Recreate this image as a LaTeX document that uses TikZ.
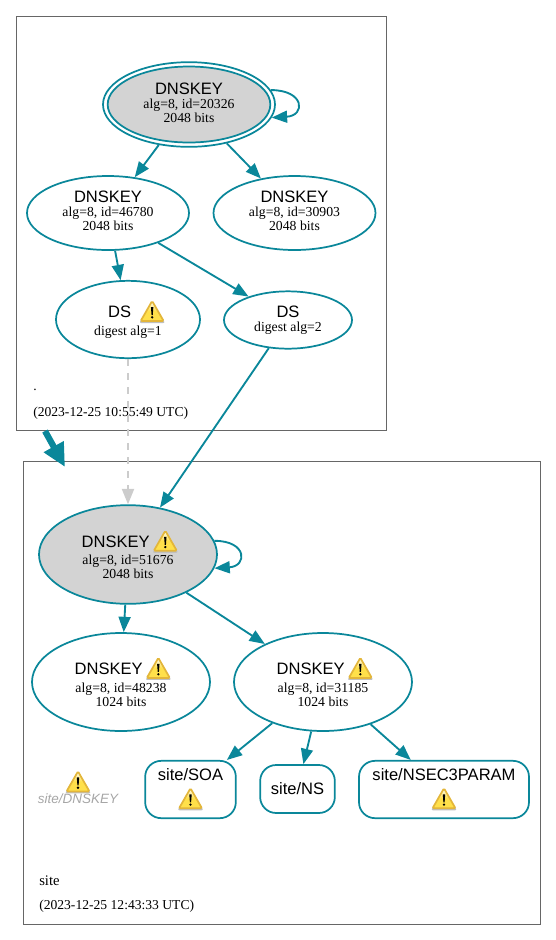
\documentclass[tikz,border=0pt]{standalone}
\usepackage{fontspec}
\setmainfont{Liberation Serif}
\setsansfont{Liberation Sans}
\usetikzlibrary{arrows.meta, shapes, shapes.geometric, calc}
\definecolor{teal}{HTML}{0A879A}
\definecolor{zonegray}{HTML}{666666}
\definecolor{keygray}{HTML}{D3D3D3}
\definecolor{warnyellow}{HTML}{FFE04A}
\definecolor{warnedge}{HTML}{E3B63A}
\newcommand{\warnicon}{\tikz[x=0.75pt,y=-0.75pt,baseline={(0,17.5)},sharp corners]{%
    \fill[black!25,rounded corners=1.5pt] (12,1) -- (25,23) -- (-1,23) -- cycle;
    \draw[warnedge,line width=1.3pt,rounded corners=1pt,top color=white,bottom color=warnyellow,middle color=warnyellow] (12,1) -- (23.5,21) -- (0.5,21) -- cycle;
    \fill[black] (10.8,7) -- (13.2,7) -- (12.6,15) -- (11.4,15) -- cycle;
    \fill[black] (12,17.3) circle (1.3);
}}
\newcommand{\keyname}[1]{{\sffamily\fontsize{12.4}{10.5}\selectfont #1}}
\newcommand{\lift}{\\[-7.5pt]\mbox{}}
\tikzset{
    zone/.style={draw=zonegray, line width=0.7pt},
    rrset/.style={draw=teal, line width=1.3pt, fill=white, ellipse, inner sep=0pt, align=center, font=\fontsize{10.3}{10.5}\selectfont},
    rrbox/.style={draw=teal, line width=1.3pt, rectangle, rounded corners=12pt, inner sep=0pt, align=center, font=\fontsize{10.3}{10.5}\selectfont},
    edge/.style={draw=teal, line width=1.4pt, -{Triangle[length=11.5pt,width=9pt]}},
    stamp/.style={anchor=west, inner sep=0pt, font=\fontsize{10.2}{11}\selectfont},
}
\begin{document}
\begin{tikzpicture}[x=0.75pt,y=-0.75pt]
    \useasboundingbox (0,0) rectangle (556,940);
    % zones
    \draw[zone] (16,16) rectangle (386,430);
    \draw[zone] (23,461) rectangle (540,924);
    \node[stamp] (rootname) at (33,390) {.};
    \node[stamp] (rootdate) at (33,413) {(2023-12-25 10:55:49 UTC)};
    \node[stamp] (sitename) at (39,881) {\fontsize{11}{11}\selectfont site};
    \node[stamp] (sitedate) at (39,906) {(2023-12-25 12:43:33 UTC)};
    % root zone
    \node[rrset, minimum width=129pt, minimum height=63.5pt] (rootksk) at (189,104.5) {};
    \node[rrset, fill=keygray, minimum width=122pt, minimum height=57pt] (rootkskin) at (189,104.5) {\keyname{DNSKEY}\\alg=8, id=20326\\2048 bits\lift};
    \node[rrset, minimum width=121.5pt, minimum height=55.5pt] (zsk46780) at (108,213) {\keyname{DNSKEY}\\alg=8, id=46780\\2048 bits\lift};
    \node[rrset, minimum width=121.5pt, minimum height=55.5pt] (zsk30903) at (294.5,213) {\keyname{DNSKEY}\\alg=8, id=30903\\2048 bits\lift};
    \node[rrset, minimum width=108pt, minimum height=58pt] (dsone) at (128,319.5) {\hspace*{13pt}\keyname{DS}\hspace{6pt}\warnicon\\[1.5pt]digest alg=1};
    \node[rrset, minimum width=96pt, minimum height=43pt] (dstwo) at (288,320) {\keyname{DS}\\digest alg=2};
    % site zone
    \node[rrset, fill=keygray, minimum width=133.5pt, minimum height=74pt] (siteksk) at (128,554.5) {\hspace*{3pt}\keyname{DNSKEY}\hspace{2pt}\warnicon\\[1pt]alg=8, id=51676\\2048 bits};
    \node[rrset, minimum width=133.5pt, minimum height=73.5pt] (zsk48238) at (121,682) {\hspace*{3pt}\keyname{DNSKEY}\hspace{2pt}\warnicon\\[1.5pt]alg=8, id=48238\\1024 bits};
    \node[rrset, minimum width=133.5pt, minimum height=73.5pt] (zsk31185) at (323,682) {\hspace*{3pt}\keyname{DNSKEY}\hspace{2pt}\warnicon\\[1.5pt]alg=8, id=31185\\1024 bits};
    \node[rrbox, minimum width=68pt, minimum height=43pt] (soa) at (190.5,789.5) {\keyname{site/SOA}\\[4pt]\warnicon};
    \node[rrbox, minimum width=56pt, minimum height=36pt] (ns) at (297.5,789) {\keyname{site/NS}};
    \node[rrbox, minimum width=127.5pt, minimum height=43pt] (nsec) at (444,789.5) {\keyname{site/NSEC3PARAM}\\[4pt]\warnicon};
    \node[inner sep=0pt] (dnskeywarn) at (78,782) {\warnicon};
    \node[inner sep=0pt, text=black!35, font=\sffamily\itshape\fontsize{10.1}{11}\selectfont] (dnskeylabel) at (78,799) {site/DNSKEY};
    % edges
    \foreach \a/\b in {rootksk/zsk46780, rootksk/zsk30903, zsk46780/dsone, zsk46780/dstwo, dstwo/siteksk, siteksk/zsk48238, siteksk/zsk31185, zsk31185/soa, zsk31185/ns, zsk31185/nsec} {
        \draw[edge] (\a) -- (\b);
    };
    \draw[line width=1.4pt, black!20, dash pattern=on 5.5pt off 5pt, -{Triangle[length=11.5pt,width=9pt]}] (dsone) -- (siteksk);
    \draw[edge] (rootksk.10) .. controls +(34,0) and +(34,-2) .. (rootksk.-9);
    \draw[edge] (siteksk.9) .. controls +(33,0) and +(33,-2) .. (siteksk.-9);
    % delegation
    \coordinate (zonefrom) at (45,431);
    \coordinate (zoneto) at (65,467);
    \draw[draw=teal, line width=4.7pt, -{Triangle[length=17.5pt,width=16pt]}] (zonefrom) -- (zoneto);
\end{tikzpicture}
\end{document}
